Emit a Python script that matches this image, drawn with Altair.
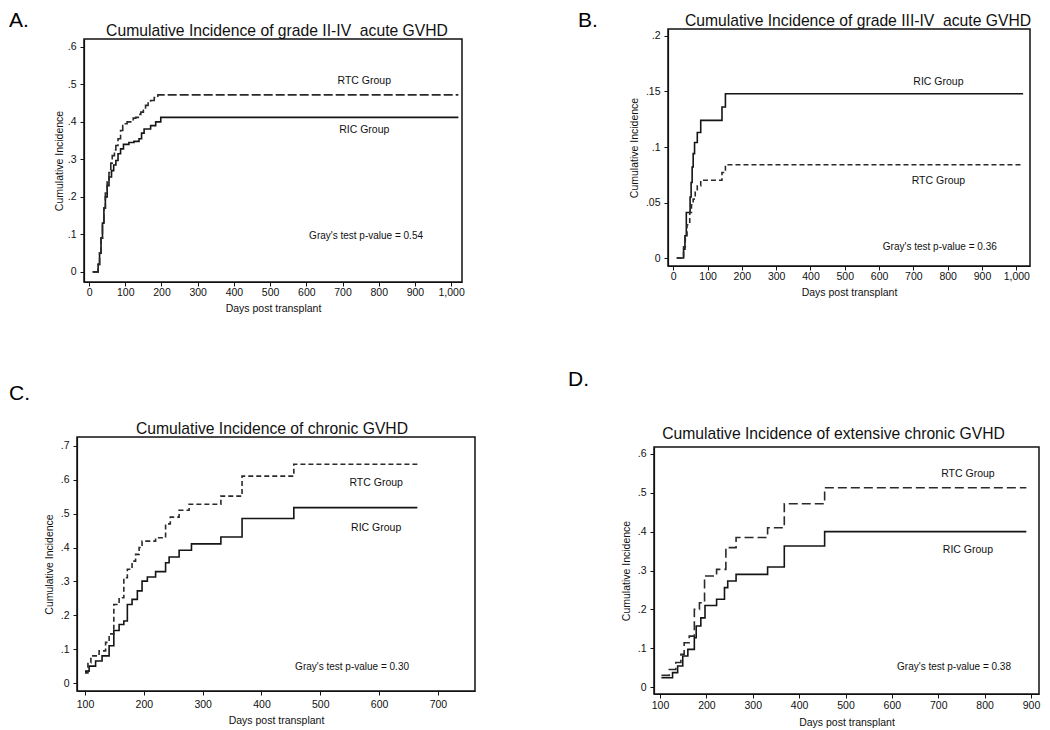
import altair as alt
import pandas as pd

FONT = "Liberation Sans"

# ---------------- Panel A: grade II-IV acute GVHD ----------------
a_ric_days = [10, 25, 29, 33, 37, 41, 45, 50, 55, 62, 68, 74, 80, 87, 95, 110, 124, 138, 145, 152, 170, 184, 198, 1020]
a_ric_ci = [0, 0.02, 0.05, 0.09, 0.13, 0.17, 0.20, 0.23, 0.253, 0.27, 0.285, 0.297, 0.315, 0.328, 0.34, 0.345, 0.348, 0.355, 0.37, 0.381, 0.39, 0.40, 0.412, 0.412]
a_rtc_days = [10, 25, 29, 33, 37, 41, 45, 50, 55, 60, 64, 70, 74, 80, 87, 93, 97, 105, 115, 122, 129, 136, 143, 150, 156, 163, 170, 180, 190, 1020]
a_rtc_ci = [0, 0.02, 0.05, 0.09, 0.13, 0.17, 0.21, 0.24, 0.265, 0.29, 0.31, 0.325, 0.337, 0.355, 0.377, 0.39, 0.395, 0.40, 0.403, 0.41, 0.412, 0.42, 0.426, 0.435, 0.444, 0.45, 0.457, 0.465, 0.472, 0.472]
a_labels = ["RTC Group", "RIC Group", "Gray's test p-value = 0.54"]
a_label_days = [760, 760, 765]
a_label_ci = [0.509, 0.379, 0.096]

# ---------------- Panel B: grade III-IV acute GVHD ----------------
b_ric_days = [10, 30, 34, 38, 49, 52, 55, 58, 62, 70, 80, 142, 152, 1020]
b_ric_ci = [0, 0.008, 0.02, 0.041, 0.055, 0.068, 0.082, 0.094, 0.104, 0.113, 0.124, 0.136, 0.148, 0.148]
b_rtc_days = [10, 30, 35, 40, 48, 53, 58, 64, 70, 80, 142, 152, 1020]
b_rtc_ci = [0, 0.01, 0.02, 0.03, 0.041, 0.048, 0.053, 0.06, 0.065, 0.07, 0.077, 0.084, 0.084]
b_labels = ["RIC Group", "RTC Group", "Gray's test p-value = 0.36"]
b_label_days = [773, 773, 777]
b_label_ci = [0.159, 0.069, 0.01]

# ---------------- Panel C: chronic GVHD ----------------
c_ric_days = [100, 107, 118, 129, 141, 149, 158, 166, 172, 180, 189, 197, 206, 220, 237, 243, 260, 281, 331, 367, 455, 665]
c_ric_ci = [0.035, 0.05, 0.065, 0.08, 0.11, 0.155, 0.173, 0.183, 0.232, 0.247, 0.272, 0.301, 0.313, 0.329, 0.355, 0.372, 0.392, 0.411, 0.431, 0.486, 0.518, 0.518]
c_rtc_days = [100, 105, 110, 124, 135, 141, 149, 158, 166, 172, 180, 186, 192, 197, 220, 237, 245, 260, 277, 331, 367, 455, 665]
c_rtc_ci = [0.03, 0.06, 0.08, 0.095, 0.12, 0.145, 0.232, 0.252, 0.311, 0.336, 0.36, 0.38, 0.40, 0.419, 0.429, 0.47, 0.49, 0.51, 0.528, 0.552, 0.611, 0.646, 0.646]
c_labels = ["RTC Group", "RIC Group", "Gray's test p-value = 0.30"]
c_label_days = [595, 595, 554]
c_label_ci = [0.59, 0.458, 0.047]

# ---------------- Panel D: extensive chronic GVHD ----------------
d_ric_days = [103, 127, 138, 149, 160, 174, 178, 188, 197, 222, 239, 246, 264, 332, 368, 455, 890]
d_ric_ci = [0.024, 0.037, 0.054, 0.08, 0.097, 0.127, 0.157, 0.178, 0.21, 0.226, 0.256, 0.273, 0.29, 0.309, 0.363, 0.40, 0.40]
d_rtc_days = [103, 120, 134, 145, 152, 163, 174, 185, 196, 222, 242, 264, 332, 368, 455, 890]
d_rtc_ci = [0.03, 0.045, 0.063, 0.084, 0.114, 0.131, 0.2, 0.217, 0.286, 0.303, 0.359, 0.385, 0.41, 0.472, 0.513, 0.513]
d_labels = ["RTC Group", "RIC Group", "Gray's test p-value = 0.38"]
d_label_days = [764, 764, 734]
d_label_ci = [0.549, 0.353, 0.052]

label_sizes = [10.5, 10.5, 10]

Y_LABEL = "datum.value == 0 ? '0' : slice(toString(datum.value), 1)"


def panel(title, ric_days, ric_ci, rtc_days, rtc_ci, labels, label_days, label_ci,
          xdom, ydom, xvals, yvals, xfmt, dash, width, height,
          letter, letter_x, letter_y, title_dx, title_offset,
          ytitle_pad, xlabel_pad, xtitle_pad, box):
    ric = pd.DataFrame({"day": ric_days, "ci": ric_ci})
    rtc = pd.DataFrame({"day": rtc_days, "ci": rtc_ci})
    lab = pd.DataFrame({"day": label_days, "ci": label_ci, "label": labels, "fs": label_sizes})
    xscale = alt.Scale(domain=xdom, nice=False, zero=False)
    yscale = alt.Scale(domain=ydom, nice=False, zero=False)
    xaxis = alt.Axis(values=xvals, format=xfmt, title="Days post transplant",
                     labelPadding=xlabel_pad, titlePadding=xtitle_pad,
                     labelFlush=False, labelOverlap=False)
    yaxis = alt.Axis(values=yvals, labelExpr=Y_LABEL, title="Cumulative Incidence",
                     titlePadding=ytitle_pad, labelPadding=4, labelOverlap=False,
                     labelFlush=False)
    X = alt.X("day:Q", scale=xscale, axis=xaxis)
    Y = alt.Y("ci:Q", scale=yscale, axis=yaxis)
    solid = alt.Chart(ric).mark_line(interpolate="step-after", color="#151515",
                                     strokeWidth=1.6).encode(x=X, y=Y)
    dashed = alt.Chart(rtc).mark_line(interpolate="step-after", color="#2a2a2a", strokeWidth=1.6,
                                      strokeDash=dash).encode(x=X, y=Y)
    text = alt.Chart(lab).mark_text(font=FONT, color="#111").encode(
        x=X, y=Y, text="label:N",
        size=alt.Size("fs:Q", scale=None, legend=None),
    )
    one = pd.DataFrame({"t": [letter], "title": [title]})
    let = alt.Chart(one).mark_text(
        font=FONT, fontSize=21, align="left", baseline="top", color="#000"
    ).encode(x=alt.value(letter_x), y=alt.value(letter_y), text="t:N")
    ttl = alt.Chart(one).mark_text(
        font=FONT, fontSize=15.7, align="center", baseline="alphabetic", color="#111"
    ).encode(x=alt.value(width / 2 + title_dx), y=alt.value(-title_offset), text="title:N")
    # invisible box that fixes the extent of this panel inside the grid layout
    pad_box = alt.Chart(one).mark_rect(opacity=0).encode(
        x=alt.value(box[0]), y=alt.value(box[1]), x2=alt.value(box[2]), y2=alt.value(box[3])
    )
    return alt.layer(pad_box, solid, dashed, text, let, ttl).properties(width=width, height=height)


def spacer():
    return alt.Chart(pd.DataFrame({"s": [0]})).mark_rect(opacity=0).encode(
        x=alt.value(0), y=alt.value(0), x2=alt.value(1), y2=alt.value(1)
    ).properties(width=1, height=1, view=alt.ViewBackground(stroke="transparent", strokeWidth=0))


A = panel("Cumulative Incidence of grade II-IV\u00a0 acute GVHD", a_ric_days, a_ric_ci, a_rtc_days, a_rtc_ci,
          a_labels, a_label_days, a_label_ci,
          [-14, 1030], [-0.027, 0.621], list(range(0, 1001, 100)), [0, 0.1, 0.2, 0.3, 0.4, 0.5, 0.6],
          ",d", [9, 3], 378, 243, "A.", -75, -29, 4, 3, 3, 1, 6,
          [-76, -31, 380, 338])
B = panel("Cumulative Incidence of grade III-IV\u00a0 acute GVHD", b_ric_days, b_ric_ci, b_rtc_days, b_rtc_ci,
          b_labels, b_label_days, b_label_ci,
          [-15.4, 1040], [-0.0072, 0.2063], list(range(0, 1001, 100)), [0, 0.05, 0.1, 0.15, 0.2],
          ",d", [5, 3], 362, 237, "B.", -90, -19, 9, 3, 5.5, 1, 6,
          [-180, -21, 300, 300])
C = panel("Cumulative Incidence of chronic GVHD", c_ric_days, c_ric_ci, c_rtc_days, c_rtc_ci,
          c_labels, c_label_days, c_label_ci,
          [86.4, 763], [-0.0236, 0.7265], list(range(100, 701, 100)), [0, 0.1, 0.2, 0.3, 0.4, 0.5, 0.6, 0.7],
          "d", [5, 3], 398, 254, "C.", -68, -54, -4, 3, 6, 4, 6,
          [-69, -58, 402, 280])
D = panel("Cumulative Incidence of extensive chronic GVHD", d_ric_days, d_ric_ci, d_rtc_days, d_rtc_ci,
          d_labels, d_label_days, d_label_ci,
          [87, 917.3], [-0.018, 0.618], list(range(100, 901, 100)), [0, 0.1, 0.2, 0.3, 0.4, 0.5, 0.6],
          "d", [9, 4], 385, 247, "D.", -86, -78, -13, 8, 6, 2, 7,
          [-173, -78, 300, 260])

items = [
    spacer(), spacer(), spacer(),
    spacer(), A, B,
    spacer(), C, D,
]

chart = alt.concat(*items, columns=3, spacing=0, bounds="full", align="none").properties(
    padding={"left": -2, "top": -2, "right": 0, "bottom": 0}
).configure_view(
    stroke="#111", strokeWidth=1.5
).configure_axis(
    grid=False, domainColor="#111", domainWidth=1.2, tickColor="#111", tickSize=4, tickWidth=1,
    labelFont=FONT, labelFontSize=10.5, labelColor="#111",
    titleFont=FONT, titleFontSize=10.5, titleFontWeight="normal", titleColor="#111",
)

chart.save("out.html", embed_options={"renderer": "svg", "actions": False})
